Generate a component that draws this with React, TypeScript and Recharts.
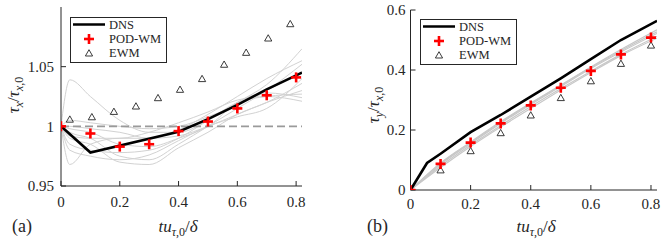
import React from "react";
import {
  ComposedChart,
  Line,
  Scatter,
  XAxis,
  YAxis,
  ReferenceLine,
  Label,
} from "recharts";

const SERIF = '"Liberation Serif", "Times New Roman", Times, serif';
const INK = "#262626";

const tTicks = [0, 0.2, 0.4, 0.6, 0.8];
const txTicks = [0.95, 1, 1.05];
const tyTicks = [0, 0.2, 0.4, 0.6];

// (a) streamwise stress
const dnsXT = [0, 0.1, 0.4, 0.5, 0.6, 0.7, 0.82];
const dnsXV = [1, 0.978, 0.9955, 1.006, 1.018, 1.031, 1.045];
const podT = [0, 0.1, 0.2, 0.3, 0.4, 0.5, 0.6, 0.7, 0.8];
const podXV = [1, 0.994, 0.983, 0.985, 0.996, 1.004, 1.015, 1.026, 1.041];
const ewmXT = [0.03, 0.105, 0.18, 0.255, 0.33, 0.405, 0.48, 0.555, 0.63, 0.705, 0.78];
const ewmXV = [1.006, 1.008, 1.0125, 1.017, 1.024, 1.031, 1.04, 1.052, 1.062, 1.074, 1.086];
const runXT = [0, 0.03, 0.1, 0.2, 0.3, 0.4, 0.5, 0.6, 0.7, 0.82];
const runsXV = [
  [1, 1.039, 1.025, 1.005, 0.995, 0.995, 1.005, 1.02, 1.035, 1.065],
  [1, 0.968, 0.985, 0.99, 0.99, 0.997, 1.01, 1.025, 1.04, 1.055],
  [1, 0.995, 0.99, 0.975, 0.972, 0.985, 1.0, 1.015, 1.03, 1.052],
  [1, 0.99, 0.985, 0.97, 0.968, 0.982, 0.995, 1.01, 1.02, 1.036],
  [1, 1.0, 0.998, 0.995, 0.99, 0.992, 1.0, 1.01, 1.02, 1.03],
  [1, 0.985, 0.98, 0.978, 0.98, 0.99, 1.005, 1.02, 1.025, 1.027],
  [1, 0.998, 0.995, 0.985, 0.983, 0.99, 1.0, 1.02, 1.028, 1.024],
  [1, 0.992, 0.99, 0.99, 0.995, 1.003, 1.012, 1.022, 1.025, 1.021],
  [1, 0.98, 0.975, 0.972, 0.976, 0.988, 1.0, 1.008, 1.015, 1.04],
  [1, 1.005, 1.003, 1.0, 0.998, 1.0, 1.008, 1.018, 1.03, 1.046],
];

// (b) spanwise stress
const dnsYT = [0, 0.055, 0.1, 0.2, 0.3, 0.4, 0.5, 0.6, 0.7, 0.82];
const dnsYV = [0, 0.09, 0.121, 0.193, 0.25, 0.311, 0.372, 0.436, 0.5, 0.564];
const podYV = [0, 0.087, 0.158, 0.222, 0.282, 0.341, 0.397, 0.452, 0.508];
const ewmYV = [0, 0.067, 0.131, 0.191, 0.25, 0.308, 0.364, 0.422, 0.483];
const runYT = [0, 0.1, 0.2, 0.3, 0.4, 0.5, 0.6, 0.7, 0.82];
const runsYV = [
  [0, 0.085, 0.155, 0.222, 0.285, 0.345, 0.405, 0.46, 0.522],
  [0, 0.09, 0.16, 0.228, 0.29, 0.35, 0.41, 0.468, 0.534],
  [0, 0.08, 0.15, 0.215, 0.278, 0.338, 0.396, 0.452, 0.512],
  [0, 0.075, 0.145, 0.21, 0.272, 0.333, 0.392, 0.448, 0.506],
  [0, 0.088, 0.158, 0.225, 0.288, 0.348, 0.408, 0.464, 0.527],
];

const pts = (xs: number[], ys: number[]) => xs.map((x, i) => ({ x, y: ys[i] }));

const Plus = ({ cx, cy }: any) => (
  <g stroke="#ff0000" strokeWidth={2.6}>
    <line x1={cx - 5} x2={cx + 5} y1={cy} y2={cy} />
    <line x1={cx} x2={cx} y1={cy - 5} y2={cy + 5} />
  </g>
);

const Tri = ({ cx, cy }: any) => (
  <path
    d={`M${cx - 3.6},${cy + 3} L${cx + 3.6},${cy + 3} L${cx},${cy - 3.3} Z`}
    fill="none"
    stroke={INK}
    strokeWidth={0.9}
  />
);

const LegendBox = ({ left, top }: { left: number; top: number }) => (
  <svg width={98} height={47} style={{ position: "absolute", left, top }}>
    <rect x={0.5} y={0.5} width={96} height={45} fill="#fff" stroke={INK} />
    <line x1={3} x2={35} y1={7.5} y2={7.5} stroke="#000" strokeWidth={2.5} />
    <g style={{ fontFamily: SERIF, fontSize: 12.5 }} fill={INK}>
      <text x={39} y={11.5}>DNS</text>
      <text x={39} y={26}>POD-WM</text>
      <text x={39} y={40}>EWM</text>
    </g>
    <Plus cx={19} cy={22} />
    <Tri cx={19} cy={36} />
  </svg>
);

const XTitle = ({ cx, y, tag, tagX }: any) => (
  <g style={{ fontFamily: SERIF }} fill={INK}>
    <text x={cx} y={y} textAnchor="middle" style={{ fontSize: 17 }}>
      <tspan fontStyle="italic">tu</tspan>
      <tspan fontStyle="italic" style={{ fontSize: 12 }} dy={4}>τ</tspan>
      <tspan style={{ fontSize: 12 }}>,0</tspan>
      <tspan dy={-4}>/</tspan>
      <tspan fontStyle="italic">δ</tspan>
    </text>
    <text x={tagX} y={y} style={{ fontSize: 18 }}>{tag}</text>
  </g>
);

const YTitle = ({ cx, cy, sub }: any) => (
  <text
    x={cx}
    y={cy + 5}
    transform={`rotate(-90 ${cx} ${cy})`}
    textAnchor="middle"
    style={{ fontFamily: SERIF, fontSize: 17 }}
    fill={INK}
  >
    <tspan fontStyle="italic">τ</tspan>
    <tspan fontStyle="italic" style={{ fontSize: 12 }} dy={4}>{sub}</tspan>
    <tspan dy={-4}>/</tspan>
    <tspan fontStyle="italic">τ</tspan>
    <tspan fontStyle="italic" style={{ fontSize: 12 }} dy={4}>x</tspan>
    <tspan style={{ fontSize: 12 }}>,0</tspan>
  </text>
);

type Pt = { x: number; y: number };

type PanelProps = {
  left: number;
  margin: { top: number; right: number; left: number; bottom: number };
  yWidth: number;
  xHeight: number;
  yDomain: [number, number];
  yTicks: number[];
  yTickMargin: number;
  xTickMargin: number;
  runs: Pt[][];
  dns: Pt[];
  pod: Pt[];
  ewm: Pt[];
  dashed?: boolean;
  runColor: string;
  runWidth: number;
  xTitle: { cx: number; y: number; tag: string; tagX: number };
  yTitle: { cx: number; cy: number; sub: string };
  legend: { left: number; top: number };
};

const tickStyle = { fill: INK, fontSize: 15, style: { fontFamily: SERIF } };

const Panel = (p: PanelProps) => (
  <div style={{ position: "absolute", left: p.left, top: 0, width: 332, height: 250 }}>
    <ComposedChart width={332} height={250} margin={p.margin}>
      <XAxis
        xAxisId="b"
        dataKey="x"
        type="number"
        domain={[0, 0.82]}
        allowDataOverflow
        ticks={tTicks}
        height={p.xHeight}
        tickSize={-5}
        tickMargin={p.xTickMargin}
        tick={tickStyle}
        stroke={INK}
      >
        <Label content={() => <XTitle {...p.xTitle} />} />
      </XAxis>
      <XAxis
        xAxisId="t"
        orientation="top"
        dataKey="x"
        type="number"
        domain={[0, 0.82]}
        allowDataOverflow
        ticks={tTicks}
        height={0}
        tickSize={-5}
        tickFormatter={() => ""}
        stroke={INK}
      />
      <YAxis
        yAxisId="l"
        dataKey="y"
        type="number"
        domain={p.yDomain}
        allowDataOverflow
        ticks={p.yTicks}
        width={p.yWidth}
        tickSize={-5}
        tickMargin={p.yTickMargin}
        tick={tickStyle}
        stroke={INK}
      >
        <Label content={() => <YTitle {...p.yTitle} />} />
      </YAxis>
      <YAxis
        yAxisId="r"
        orientation="right"
        dataKey="y"
        type="number"
        domain={p.yDomain}
        allowDataOverflow
        ticks={p.yTicks}
        width={0}
        tickSize={-5}
        tickFormatter={() => ""}
        stroke={INK}
      />
      {p.runs.map((run, i) => (
        <Line
          key={i}
          xAxisId="b"
          yAxisId="l"
          data={run}
          dataKey="y"
          type="monotone"
          stroke={p.runColor}
          strokeWidth={p.runWidth}
          dot={false}
          isAnimationActive={false}
        />
      ))}
      {p.dashed && (
        <ReferenceLine
          xAxisId="b"
          yAxisId="l"
          y={1}
          stroke="#9a9a9a"
          strokeWidth={1.8}
          strokeDasharray="8 4"
        />
      )}
      <Line
        xAxisId="b"
        yAxisId="l"
        data={p.dns}
        dataKey="y"
        type="linear"
        stroke="#000"
        strokeWidth={2.6}
        dot={false}
        isAnimationActive={false}
      />
      <Scatter
        xAxisId="b"
        yAxisId="l"
        data={p.ewm}
        shape={(s: any) => <Tri {...s} />}
        isAnimationActive={false}
      />
      <Scatter
        xAxisId="b"
        yAxisId="l"
        data={p.pod}
        shape={(s: any) => <Plus {...s} />}
        isAnimationActive={false}
      />
    </ComposedChart>
    <LegendBox left={p.legend.left} top={p.legend.top} />
  </div>
);

export default function App() {
  return (
    <div
      style={{
        position: "absolute",
        left: 0,
        top: 0,
        width: 664,
        height: 250,
        background: "#fff",
        fontFamily: SERIF,
      }}
    >
      <Panel
        left={0}
        margin={{ top: 7, right: 30, left: 0, bottom: 0 }}
        yWidth={61}
        xHeight={64}
        yDomain={[0.95, 1.1]}
        yTicks={txTicks}
        yTickMargin={12}
        xTickMargin={15}
        runs={runsXV.map((r) => pts(runXT, r))}
        dns={pts(dnsXT, dnsXV)}
        pod={pts(podT, podXV)}
        ewm={pts(ewmXT, ewmXV)}
        dashed
        runColor="#d2d2d2"
        runWidth={1}
        xTitle={{ cx: 178, y: 232, tag: "(a)", tagX: 12 }}
        yTitle={{ cx: 14, cy: 95, sub: "x" }}
        legend={{ left: 70, top: 17 }}
      />
      <Panel
        left={332}
        margin={{ top: 10, right: 7, left: 0, bottom: 0 }}
        yWidth={78.5}
        xHeight={60}
        yDomain={[0, 0.6]}
        yTicks={tyTicks}
        yTickMargin={10}
        xTickMargin={13}
        runs={runsYV.map((r) => pts(runYT, r))}
        dns={pts(dnsYT, dnsYV)}
        pod={pts(podT, podYV)}
        ewm={pts(podT, ewmYV)}
        runColor="#c8c8c8"
        runWidth={1.2}
        xTitle={{ cx: 204, y: 232, tag: "(b)", tagX: 35 }}
        yTitle={{ cx: 42, cy: 105, sub: "y" }}
        legend={{ left: 88, top: 19 }}
      />
    </div>
  );
}
